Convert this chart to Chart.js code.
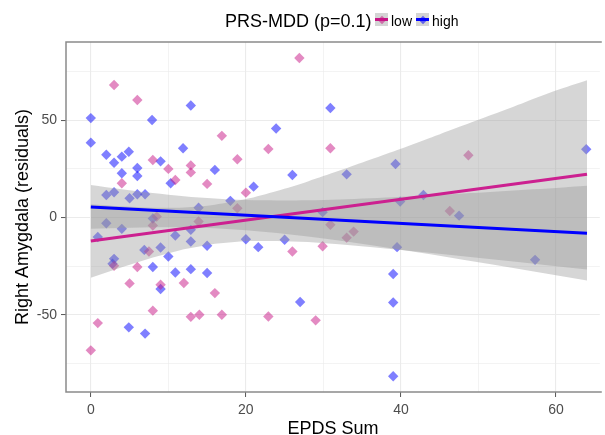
<!DOCTYPE html>
<html><head><meta charset="utf-8">
<script src="https://cdn.jsdelivr.net/npm/chart.js@4.4.0/dist/chart.umd.min.js"></script>
<style>
html,body{margin:0;padding:0;background:#fff;}
#wrap{position:relative;width:605px;height:435px;font-family:"Liberation Sans",Arial,sans-serif;overflow:hidden;}
canvas{position:absolute;left:0;top:0;}
.lg{position:absolute;white-space:nowrap;color:#000;}
.key{position:absolute;width:13px;height:13px;background:#d4d4d4;overflow:hidden;}
.key .ln{position:absolute;left:0;top:5px;width:13px;height:3px;}
.key .dm{position:absolute;left:3.5px;top:3.5px;width:6px;height:6px;transform:rotate(45deg);}
</style></head>
<body><div id="wrap"><canvas id="c" width="605" height="435"></canvas>
<div class="lg" style="left:225px;top:12px;font-size:18px;line-height:18px;">PRS-MDD (p=0.1)</div>
<div class="key" style="left:375px;top:13px"><div class="ln" style="background:#c71585"></div><div class="dm" style="background:rgba(199,21,133,0.55)"></div></div>
<div class="lg" style="left:391px;top:14px;font-size:14px;line-height:14px;">low</div>
<div class="key" style="left:416px;top:13px"><div class="ln" style="background:#0000ff"></div><div class="dm" style="background:rgba(0,0,255,0.55)"></div></div>
<div class="lg" style="left:432px;top:14px;font-size:14px;line-height:14px;">high</div>
</div>
<script>
// ---- data ----
const groupNames = ["low", "high"];
const lowX = [3.0,6.0,8.0,10.0,12.9,12.9,4.0,10.9,8.5,8.0,7.5,3.0,6.0,5.0,12.0,9.0,8.0,0.9,0.0,12.9,14.0,16.0,16.9,22.9,29.0,26.9,16.9,22.9,18.9,15.0,20.0,18.9,13.9,26.0,29.9,30.9,48.7,46.3,30.9,33.9,33.0];
const lowY = [68.1,60.4,29.6,25.0,26.8,23.2,17.6,19.3,0.5,-4.1,-17.4,-24.8,-25.4,-33.8,-33.6,-34.5,-47.8,-54.2,-68.2,-51.0,-49.9,-38.8,-49.9,-50.8,-52.8,82.0,42.0,35.2,30.0,17.3,12.8,4.8,-2.0,-17.4,-14.7,35.6,32.0,3.4,-3.7,-7.2,-10.3];
const highX = [12.9,0.0,7.9,0.0,11.9,2.0,4.9,4.0,3.0,9.0,6.0,4.0,6.0,10.3,2.0,3.0,5.0,6.0,7.0,2.0,4.0,8.0,0.9,12.9,10.9,12.9,6.9,9.0,10.0,3.0,2.8,8.0,10.9,12.9,9.0,4.9,7.0,27.0,23.9,16.0,26.0,21.0,18.0,13.9,15.0,20.0,21.6,25.0,15.0,30.9,39.3,63.9,33.0,42.9,39.9,29.9,47.5,39.5,57.3,39.0,39.0,39.0];
const highY = [57.6,51.1,50.1,38.5,35.6,32.3,33.8,31.3,28.2,28.9,25.5,22.8,21.4,17.6,11.6,13.0,9.9,12.0,12.0,-2.9,-5.8,-0.5,-10.0,-6.3,-9.2,-12.3,-16.6,-15.4,-20.0,-21.2,-23.7,-25.4,-28.2,-26.5,-36.7,-56.4,-59.6,-43.4,45.8,24.5,21.9,15.9,8.6,5.1,-14.5,-11.1,-15.2,-11.4,-28.5,56.3,27.5,35.1,22.2,11.6,8.2,2.8,1.0,-15.2,-21.7,-29.0,-43.6,-81.5];
// fitted lines (ends) and confidence bands
const fitX = [0, 64];
const lowFit = [-12.0, 22.3];
const highFit = [5.5, -8.0];
const bandX = [0,4,8,12,16,20,24,28,32,36,40,44,48,52,56,60,64];
const lowBandLo = [-30.9,-25.5,-20.5,-16.3,-13.4,-12.0,-12.0,-12.6,-13.7,-15.1,-16.6,-18.2,-19.8,-21.5,-23.2,-25.0,-26.7];
const lowBandHi = [6.9,5.8,5.1,5.2,6.6,9.5,13.7,18.6,24.0,29.7,35.4,41.3,47.3,53.2,59.3,65.3,70.6];
const highBandLo = [-5.8,-5.3,-5.0,-5.0,-5.5,-6.5,-7.9,-9.7,-11.8,-14.1,-16.5,-19.0,-21.6,-24.2,-26.9,-29.6,-32.3];
const highBandHi = [16.8,14.6,12.6,11.0,9.8,9.0,8.8,8.9,9.3,9.9,10.7,11.5,12.4,13.3,14.3,15.2,16.3];
const xTickLabels = [0,20,40,60];
const yTickLabels = [-50,0,50];

const pts = (xs, ys) => xs.map((x, i) => ({x, y: ys[i]}));
const FONT = "'Liberation Sans', Arial, sans-serif";
const band = "rgba(153,153,153,0.4)";

const borderPlugin = {
  id: 'panelBorder',
  afterDraw(chart) {
    const {ctx, chartArea: a} = chart;
    ctx.save();
    ctx.strokeStyle = '#8a8a8a';
    ctx.lineWidth = 1.5;
    ctx.beginPath();
    ctx.moveTo(a.right + 2, a.top);
    ctx.lineTo(a.left, a.top);
    ctx.lineTo(a.left, a.bottom);
    ctx.lineTo(a.right + 2, a.bottom);
    ctx.stroke();
    ctx.restore();
  }
};

new Chart(document.getElementById('c'), {
  type: 'scatter',
  data: {
    datasets: [
      {label: groupNames[0], data: pts(lowX, lowY), backgroundColor: 'rgba(199,21,133,0.5)', borderWidth: 0, pointStyle: 'rectRot', pointRadius: 5.2, order: 10},
      {label: groupNames[1], data: pts(highX, highY), backgroundColor: 'rgba(0,0,255,0.5)', borderWidth: 0, pointStyle: 'rectRot', pointRadius: 5.2, order: 10},
      {type: 'line', label: 'lowLo', data: pts(bandX, lowBandLo), borderWidth: 0, pointRadius: 0, fill: false, order: 5},
      {type: 'line', label: 'lowHi', data: pts(bandX, lowBandHi), borderWidth: 0, pointRadius: 0, fill: 2, backgroundColor: band, tension: 0.3, order: 5},
      {type: 'line', label: 'highLo', data: pts(bandX, highBandLo), borderWidth: 0, pointRadius: 0, fill: false, order: 4},
      {type: 'line', label: 'highHi', data: pts(bandX, highBandHi), borderWidth: 0, pointRadius: 0, fill: 4, backgroundColor: band, tension: 0.3, order: 4},
      {type: 'line', label: 'lowFit', data: pts(fitX, lowFit), borderColor: '#cc2090', borderWidth: 3, pointRadius: 0, fill: false, order: 2},
      {type: 'line', label: 'highFit', data: pts(fitX, highFit), borderColor: '#0000ff', borderWidth: 3, pointRadius: 0, fill: false, order: 1}
    ]
  },
  options: {
    responsive: false,
    animation: false,
    events: [],
    layout: {padding: {top: 42, right: 0, left: 0, bottom: 0}},
    plugins: {legend: {display: false}, tooltip: {enabled: false}},
    scales: {
      x: {
        type: 'linear', min: -3.2, max: 65.65,
        afterFit: s => { s.height = 43; },
        ticks: {stepSize: 10, includeBounds: false, autoSkip: false, maxRotation: 0, padding: 5,
          color: '#4d4d4d', font: {family: FONT, size: 14},
          callback: v => xTickLabels.includes(v) ? String(v) : ''},
        grid: {
          color: '#ebebeb',
          lineWidth: c => (c.tick && xTickLabels.includes(c.tick.value)) ? 1.1 : 0.6,
          tickColor: c => (c.tick && xTickLabels.includes(c.tick.value)) ? '#555' : 'rgba(0,0,0,0)',
          tickLength: 5, tickWidth: 1
        },
        border: {display: false},
        title: {display: true, text: 'EPDS Sum', color: '#000', font: {family: FONT, size: 18, lineHeight: 1}, padding: {top: 0, bottom: -3}}
      },
      y: {
        type: 'linear', min: -89.6, max: 90.2,
        afterFit: s => { s.width = 66; },
        ticks: {stepSize: 25, includeBounds: false, autoSkip: false, padding: 4,
          color: '#4d4d4d', font: {family: FONT, size: 14},
          callback: v => yTickLabels.includes(v) ? String(v) : ''},
        grid: {
          color: '#ebebeb',
          lineWidth: c => (c.tick && yTickLabels.includes(c.tick.value)) ? 1.1 : 0.6,
          tickColor: c => (c.tick && yTickLabels.includes(c.tick.value)) ? '#555' : 'rgba(0,0,0,0)',
          tickLength: 5, tickWidth: 1
        },
        border: {display: false},
        title: {display: true, text: 'Right Amygdala (residuals)', color: '#000', font: {family: FONT, size: 18, lineHeight: 1}, padding: {top: 14, bottom: 0}}
      }
    }
  },
  plugins: [borderPlugin]
});
</script>
</body></html>
